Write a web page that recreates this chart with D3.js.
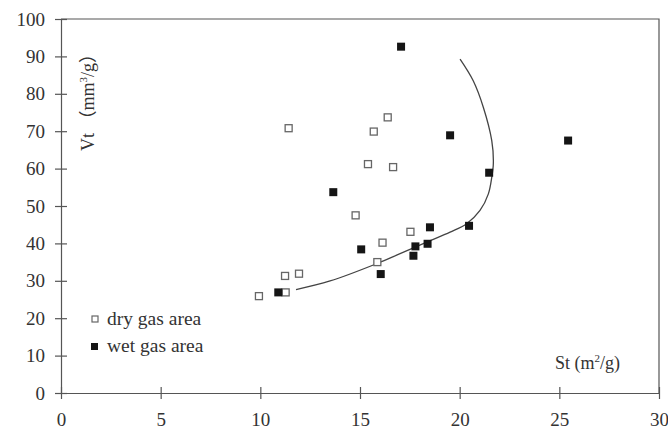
<!DOCTYPE html>
<html>
<head>
<meta charset="utf-8">
<script src="https://cdn.jsdelivr.net/npm/d3@7"></script>
<style>
  body { margin: 0; background: #fff; }
  svg text { font-family: "Liberation Serif", "DejaVu Serif", serif; fill: #333; }
  .cjk { font-family: "Noto Sans CJK SC", sans-serif; }
</style>
</head>
<body>
<div id="chart"></div>
<script>
// dry gas area samples: St (m2/g), Vt (mm3/g)
var dry_st = [9.93, 11.27, 11.24, 11.94, 14.78, 16.13, 15.87, 17.53, 16.39, 11.42, 15.69, 15.40, 16.66];
var dry_vt = [25.9, 26.9, 31.3, 31.9, 47.5, 40.2, 35.0, 43.1, 73.7, 70.8, 69.9, 61.2, 60.4];
// wet gas area samples
var wet_st = [10.9, 15.06, 16.04, 18.51, 17.78, 18.39, 17.68, 20.47, 13.66, 17.06, 19.52, 21.48, 25.44];
var wet_vt = [26.9, 38.4, 31.8, 44.3, 39.2, 39.9, 36.7, 44.7, 53.7, 92.6, 68.9, 58.9, 67.5];
// trend curve
var curve_st = [11.79, 13.5, 15.84, 17.01, 18.35, 19.52, 20.35, 21.02, 21.44, 21.61, 21.69, 21.61, 21.19, 20.68, 20.02];
var curve_vt = [27.65, 29.95, 34.59, 37.25, 40.35, 43.01, 45.25, 48.8, 53.25, 57.68, 61.5, 67.47, 76.35, 83.47, 89.25];

var x_ticks = [0, 5, 10, 15, 20, 25, 30];
var y_ticks = [0, 10, 20, 30, 40, 50, 60, 70, 80, 90, 100];

var width = 668, height = 433;
var margin = {left: 61, top: 19, right: 9, bottom: 40};
var svg = d3.select('#chart').append('svg').attr('width', width).attr('height', height);

var x_scale = d3.scaleLinear().domain([0, 30]).range([margin.left, width - margin.right]);
var y_scale = d3.scaleLinear().domain([0, 100]).range([height - margin.bottom, margin.top]);
var axis_color = '#555';

// frame (top + right)
svg.append('path')
    .attr('d', 'M' + x_scale(0) + ',' + y_scale(100) + 'H' + x_scale(30) + 'V' + y_scale(0))
    .attr('fill', 'none').attr('stroke', axis_color).attr('stroke-width', 1.2);

// x axis, ticks cross the line
var x_axis = svg.append('g').attr('transform', 'translate(0,' + y_scale(0) + ')')
    .call(d3.axisBottom(x_scale).tickValues(x_ticks).tickSizeInner(6).tickSizeOuter(0).tickPadding(14));
x_axis.selectAll('.tick line').attr('y1', -6);
x_axis.select('.domain').attr('stroke', axis_color).attr('stroke-width', 1.2);
x_axis.selectAll('.tick line').attr('stroke', axis_color).attr('stroke-width', 1.2);
x_axis.selectAll('text').style('font-size', '19px').attr('font-family', null);

var y_axis = svg.append('g').attr('transform', 'translate(' + x_scale(0) + ',0)')
    .call(d3.axisLeft(y_scale).tickValues(y_ticks).tickSizeInner(6).tickSizeOuter(0).tickPadding(10));
y_axis.selectAll('.tick line').attr('x1', 6);
y_axis.select('.domain').attr('stroke', axis_color).attr('stroke-width', 1.2);
y_axis.selectAll('.tick line').attr('stroke', axis_color).attr('stroke-width', 1.2);
y_axis.selectAll('text').style('font-size', '19px').attr('font-family', null);

// trend curve
var curve_data = curve_st.map((d, i) => [d, curve_vt[i]]);
svg.append('path').datum(curve_data)
    .attr('d', d3.line().x(d => x_scale(d[0])).y(d => y_scale(d[1])).curve(d3.curveCatmullRom))
    .attr('fill', 'none').attr('stroke', '#444').attr('stroke-width', 1.3);

// markers
var size = 7;
svg.append('g').selectAll('rect').data(dry_st.map((d, i) => [d, dry_vt[i]])).join('rect')
    .attr('x', d => x_scale(d[0]) - size / 2).attr('y', d => y_scale(d[1]) - size / 2)
    .attr('width', size).attr('height', size)
    .attr('fill', '#fff').attr('stroke', '#666').attr('stroke-width', 1.3);
svg.append('g').selectAll('rect').data(wet_st.map((d, i) => [d, wet_vt[i]])).join('rect')
    .attr('x', d => x_scale(d[0]) - (size + 1) / 2).attr('y', d => y_scale(d[1]) - (size + 1) / 2)
    .attr('width', size + 1).attr('height', size + 1)
    .attr('fill', '#151515');

// legend
var legend = svg.append('g');
legend.append('rect').attr('x', 92).attr('y', 316).attr('width', 6).attr('height', 6)
    .attr('fill', '#fff').attr('stroke', '#666').attr('stroke-width', 1.2);
legend.append('text').attr('x', 107).attr('y', 325).style('font-size', '19.5px').text('dry gas area');
legend.append('rect').attr('x', 91).attr('y', 343).attr('width', 7).attr('height', 7).attr('fill', '#151515');
legend.append('text').attr('x', 107).attr('y', 352).style('font-size', '19.5px').text('wet gas area');

// axis titles
svg.append('text').attr('x', 555).attr('y', 369).style('font-size', '18px')
    .html('St (m<tspan font-size="11" dy="-7">2</tspan><tspan dy="7">/g)</tspan>');
svg.append('text').attr('transform', 'translate(94,151) rotate(-90)').style('font-size', '18px')
    .html('Vt <tspan class="cjk">（</tspan>mm<tspan font-size="11" dy="-7">3</tspan><tspan dy="7">/g</tspan><tspan class="cjk">）</tspan>');
</script>
</body>
</html>
